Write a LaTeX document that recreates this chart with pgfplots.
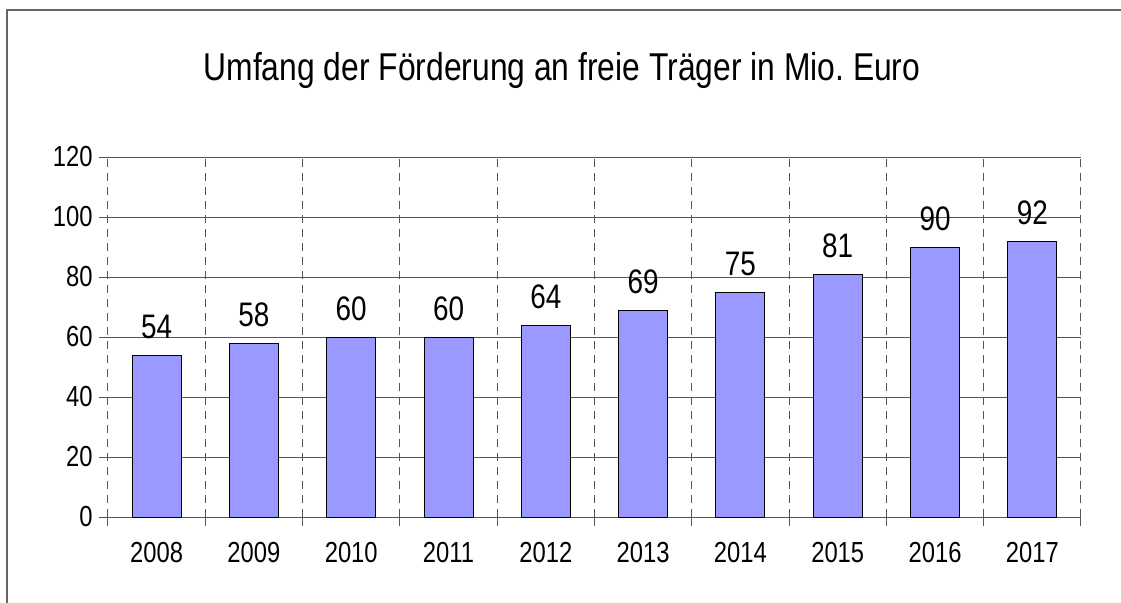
\documentclass[border=0pt]{standalone}
\usepackage{pgfplots}
\pgfplotsset{compat=1.18}
\usepackage{fontspec}
\setmainfont{Liberation Sans}[FakeStretch=0.82]
\definecolor{barblue}{HTML}{9999FF}
\definecolor{gridgray}{HTML}{555555}
\begin{document}
\frenchspacing
\begin{tikzpicture}
\useasboundingbox (-54pt,-42.5pt) rectangle (506.5pt,258.5pt);
\draw[gray!80!black, line width=1pt] (-50.5pt,-45pt) -- (-50.5pt,253.5pt) -- (510pt,253.5pt);
\begin{axis}[
  scale only axis, width=486.5pt, height=180pt,
  xmin=-0.5, xmax=9.5, ymin=0, ymax=120,
  clip=false,
  axis line style={draw=none},
  xtick={-0.5,0.5,1.5,2.5,3.5,4.5,5.5,6.5,7.5,8.5,9.5},
  xticklabels={},
  extra x ticks={0,1,2,3,4,5,6,7,8,9},
  extra x tick labels={2008,2009,2010,2011,2012,2013,2014,2015,2016,2017},
  extra x tick style={major tick length=0pt, grid=none,
    tick label style={anchor=north, inner sep=0pt, yshift=-12.5pt}},
  ytick={0,20,40,60,80,100,120},
  xmajorgrids, ymajorgrids,
  x grid style={gridgray, dash pattern=on 4pt off 3pt, line width=0.5pt},
  y grid style={gridgray, line width=0.5pt},
  tick align=outside, tick pos=left,
  major tick length=4.5pt,
  tick style={gridgray, line width=0.5pt},
  /pgf/number format/assume math mode=true,
  tick label style={font=\fontsize{14.5pt}{16pt}\selectfont, black},
  yticklabel style={anchor=east, inner sep=0pt, xshift=-3pt},
  ybar, bar width=24.5pt,
  nodes near coords,
  every node near coord/.append style={font=\fontsize{17pt}{19pt}\selectfont, black, inner sep=0pt, anchor=south, yshift=8pt},
]
\addplot[fill=barblue, draw=black, line width=0.5pt] coordinates {
  (0,54) (1,58) (2,60) (3,60) (4,64) (5,69) (6,75) (7,81) (8,90) (9,92)
};
\end{axis}
\node[anchor=base, font=\fontsize{19.4pt}{22pt}\selectfont] at (227pt,218.5pt) {Umfang der Förderung an freie Träger in Mio. Euro};
\end{tikzpicture}
\end{document}
